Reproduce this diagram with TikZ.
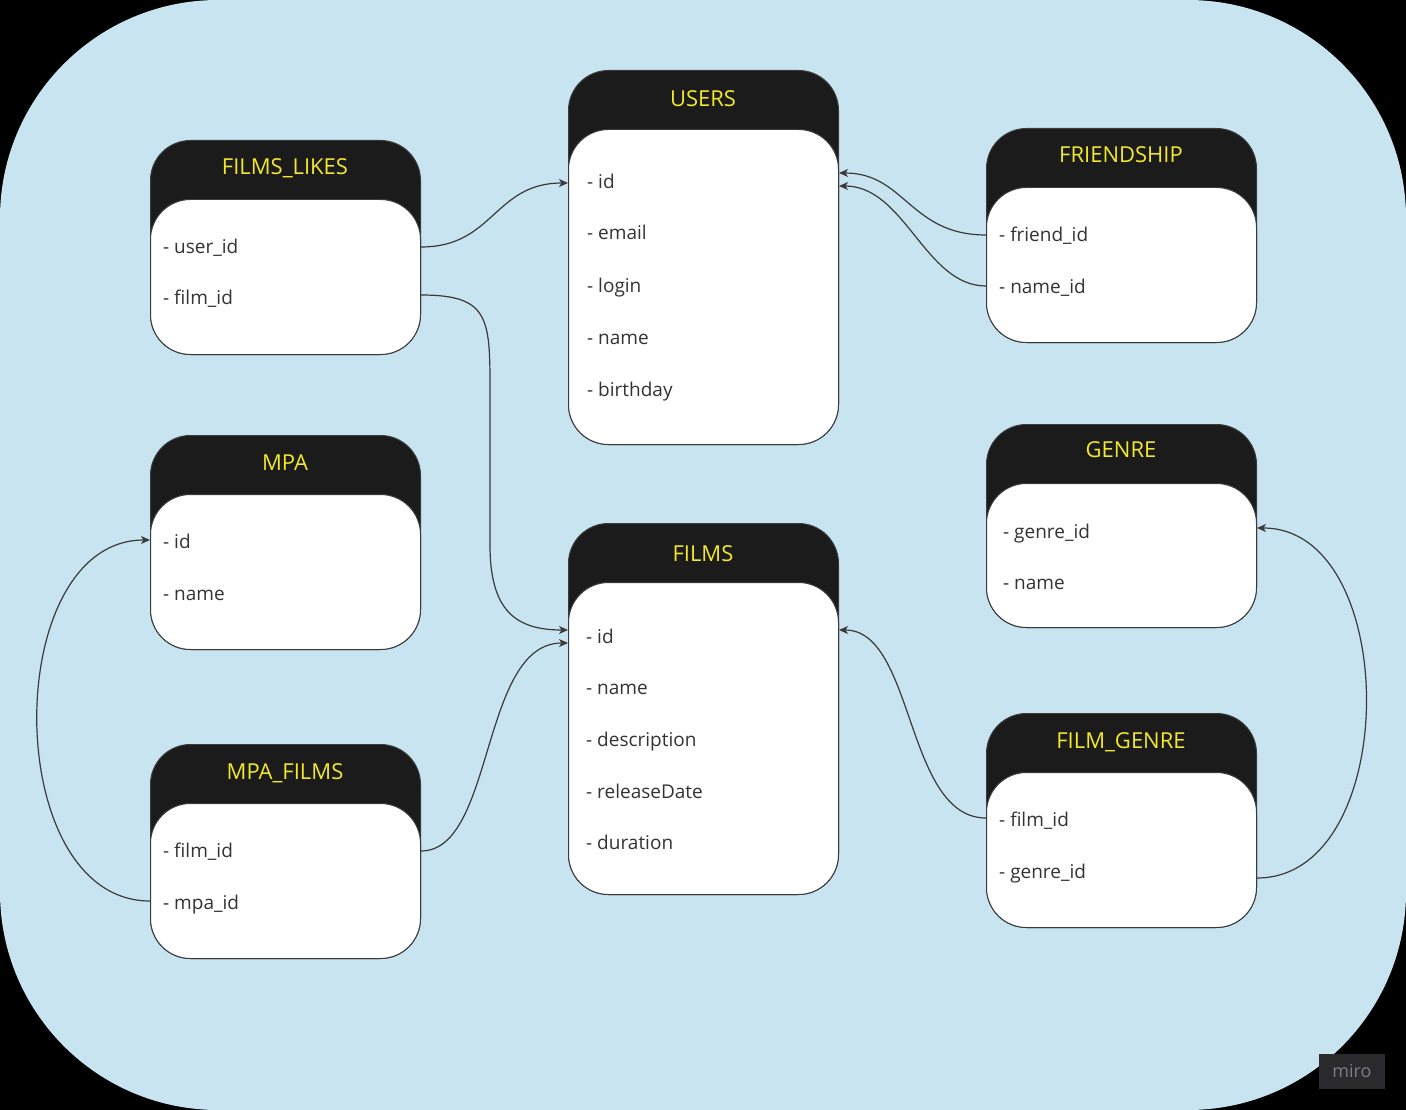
\documentclass[tikz,border=0pt]{standalone}
\usepackage{fontspec}
\setmainfont{Open Sans}
\usetikzlibrary{arrows.meta,calc}
\definecolor{bgblue}{HTML}{C8E4F0}
\definecolor{hdr}{HTML}{1B1B1B}
\definecolor{ttl}{HTML}{F2E82C}
\definecolor{fld}{HTML}{333333}
\definecolor{ln}{HTML}{3A3A3A}
\definecolor{logobg}{HTML}{2A2A2C}
\definecolor{logotx}{HTML}{7C7C88}
\tikzset{
  tblouter/.style={draw=ln, line width=1pt, fill=hdr, rounded corners=40pt, anchor=north west,
    minimum width=270pt, inner sep=0pt},
  tblbody/.style={draw=ln, line width=1pt, fill=white, rounded corners=40pt, anchor=north west,
    minimum width=270pt, inner sep=0pt},
  tbltitle/.style={text=ttl, font=\fontsize{22}{26}\selectfont, inner sep=0pt,
    text height=16pt, text depth=0pt},
  fieldtxt/.style={text=fld, font=\fontsize{19}{22}\selectfont, anchor=west, inner sep=0pt,
    text height=14pt, text depth=4pt, yshift=-3pt},
  conn/.style={draw=ln, line width=1.2pt, -{Stealth[length=9pt,width=8pt,inset=2.5pt]}},
}
% name, x, y, height, title y, title
\newcommand\erdtable[6]{%
  \node[tblouter, minimum height=#4pt] (#1) at (#2,#3) {};
  \node[tblbody, minimum height={(#4-59)*1pt}] (#1b) at (#2,#3+59) {};
  \node[tbltitle] (#1t) at (#2+135,#5) {#6};
}
\begin{document}
\begin{tikzpicture}[x=1pt,y=-1pt]
\useasboundingbox (0,0) rectangle (1406,1110);
\fill[black] (0,0) rectangle (1406,1110);
\fill[bgblue, rounded corners=218pt] (0,0) rectangle (1406,1110);

% tables
\erdtable{FL}{150}{140}{214}{167}{FILMS\_LIKES}
\node[fieldtxt] (fl1) at (163,246) {- user\_id};
\node[fieldtxt] (fl2) at (163,297) {- film\_id};

\erdtable{U}{568}{70}{374}{99}{USERS}
\node[fieldtxt] (u1) at (587,181) {- id};
\node[fieldtxt] (u2) at (587,232) {- email};
\node[fieldtxt] (u3) at (587,284) {- login};
\node[fieldtxt] (u4) at (587,336) {- name};
\node[fieldtxt] (u5) at (587,388) {- birthday};

\erdtable{FR}{986}{128}{214}{155}{FRIENDSHIP}
\node[fieldtxt] (fr1) at (999,234) {- friend\_id};
\node[fieldtxt] (fr2) at (999,285) {- name\_id};

\erdtable{M}{150}{435}{214}{462}{MPA}
\node[fieldtxt] (m1) at (163,540) {- id};
\node[fieldtxt] (m2) at (163,592) {- name};

\erdtable{G}{986}{424}{203}{449}{GENRE}
\node[fieldtxt] (g1) at (1003,530) {- genre\_id};
\node[fieldtxt] (g2) at (1003,581) {- name};

\erdtable{F}{568}{523}{371}{553}{FILMS}
\node[fieldtxt] (f1) at (586,635) {- id};
\node[fieldtxt] (f2) at (586,686) {- name};
\node[fieldtxt] (f3) at (586,738) {- description};
\node[fieldtxt] (f4) at (586,790) {- releaseDate};
\node[fieldtxt] (f5) at (586,841) {- duration};

\erdtable{MF}{150}{744}{214}{771}{MPA\_FILMS}
\node[fieldtxt] (mf1) at (163,849) {- film\_id};
\node[fieldtxt] (mf2) at (163,901) {- mpa\_id};

\erdtable{FG}{986}{713}{214}{740}{FILM\_GENRE}
\node[fieldtxt] (fg1) at (999,818) {- film\_id};
\node[fieldtxt] (fg2) at (999,870) {- genre\_id};

% connectors
\draw[conn] ($(fl1 -| FL.east)+(0,-2)$) .. controls (494,247) and (494,183) .. ($(u1 -| U.west)+(0,-1)$);
\draw[conn] ($(fl2 -| FL.east)+(0,-5)$) .. controls (492,295) and (490,320) .. (490,400)
   -- (490,545) .. controls (490,610) and (515,630) .. ($(f1 -| F.west)+(0,-8)$);
\draw[conn] ($(fr1 -| FR.west)+(0,-2)$) .. controls (910,235) and (905,173) .. ($(u1 -| U.east)+(0,-11)$);
\draw[conn] ($(fr2 -| FR.west)+(0,-2)$) .. controls (925,286) and (905,186) .. ($(u1 -| U.east)+(0,2)$);
\draw[conn] ($(mf2 -| MF.west)+(0,-3)$) .. controls (0,901) and (0,540) .. ($(m1 -| M.west)+(0,-3)$);
\draw[conn] ($(mf1 -| MF.east)+(0,-1)$) .. controls (495,851) and (480,643) .. ($(f1 -| F.west)+(0,5)$);
\draw[conn] ($(fg1 -| FG.west)+(0,-3)$) .. controls (905,818) and (915,630) .. ($(f1 -| F.east)+(0,-8)$);
\draw[conn] ($(fg2 -| FG.east)+(0,5)$) .. controls (1402,878) and (1402,528) .. ($(g1 -| G.east)+(0,-5)$);

% watermark
\node[fill=logobg, minimum width=66pt, minimum height=35pt, inner sep=0pt,
  text=logotx, font=\fontsize{18}{20}\selectfont] (logo) at (1352,1071) {miro};
\end{tikzpicture}
\end{document}
